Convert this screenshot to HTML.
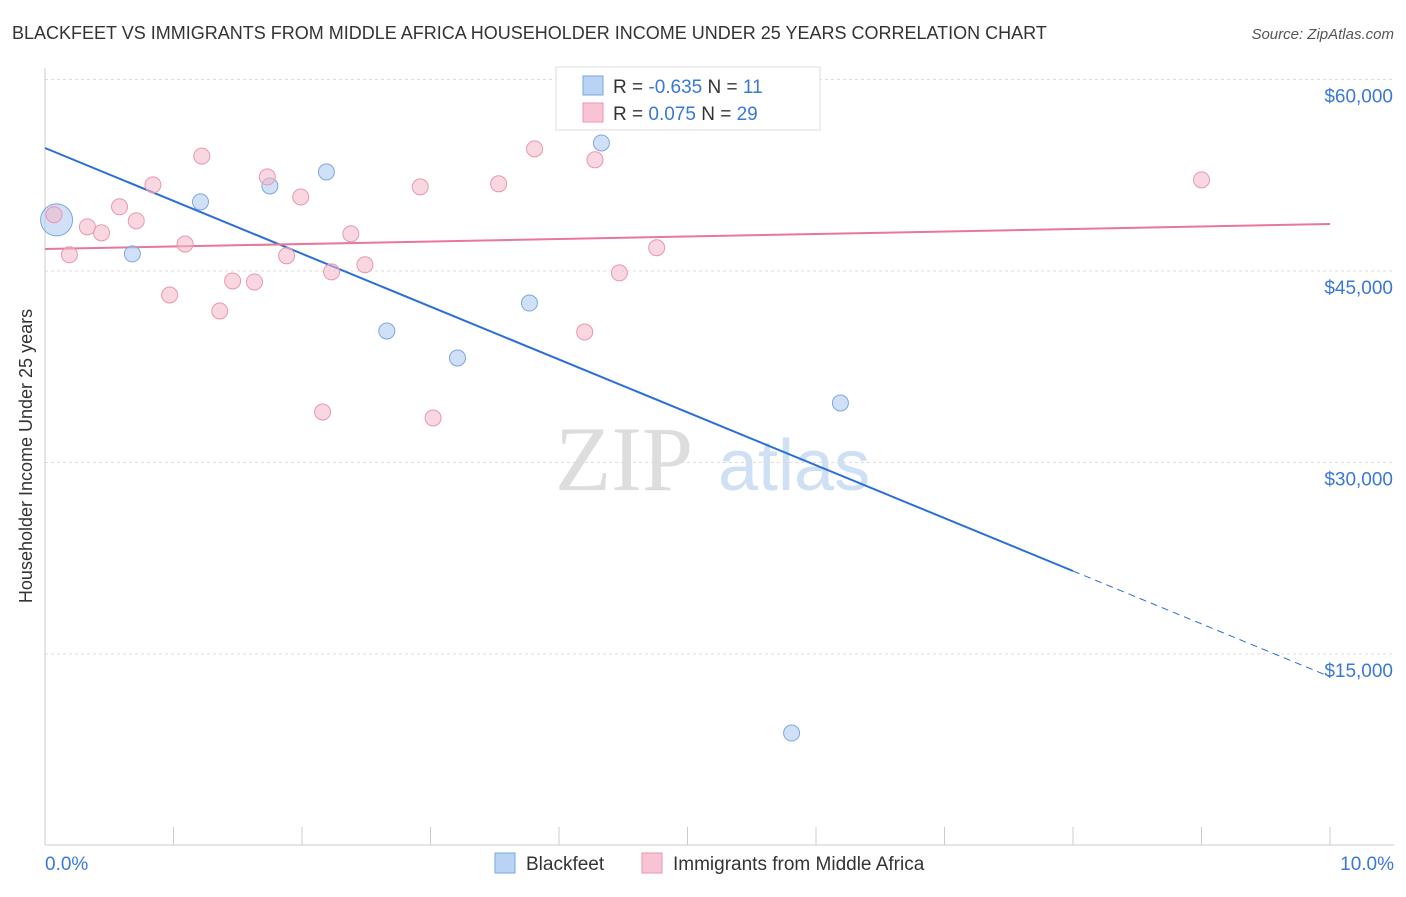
<!DOCTYPE html>
<html><head><meta charset="utf-8"><style>
body{margin:0;background:#fff;font-family:"Liberation Sans",sans-serif;}
</style></head><body>
<svg id="c" width="1406" height="892" xmlns="http://www.w3.org/2000/svg">
<text x="12" y="39" font-size="18" fill="#333">BLACKFEET VS IMMIGRANTS FROM MIDDLE AFRICA HOUSEHOLDER INCOME UNDER 25 YEARS CORRELATION CHART</text>
<text x="1394" y="39" font-size="15" fill="#555" text-anchor="end" font-style="italic">Source: ZipAtlas.com</text>
<text x="32" y="456" font-size="18" fill="#333" text-anchor="middle" transform="rotate(-90 32 456)">Householder Income Under 25 years</text>
<text x="555" y="490" font-size="92" fill="#ddd" font-family="Liberation Serif,serif">ZIP</text>
<text x="718" y="490" font-size="72" fill="#cfe0f5">atlas</text>
<g id="grid"></g><g id="axes"></g><g id="lines"></g><g id="pts"></g>
<g>
<rect x="556" y="67" width="264" height="63" fill="#fff" stroke="#ddd"/>
<rect x="583" y="76" width="20" height="19" fill="#b9d3f4" stroke="#7aa7e0"/>
<text x="613" y="93" font-size="19" fill="#333">R = <tspan fill="#3a78d6">-0.635</tspan>   N =  <tspan fill="#3a78d6">11</tspan></text>
<rect x="583" y="103" width="20" height="19" fill="#f8c4d3" stroke="#ea96b0"/>
<text x="613" y="120" font-size="19" fill="#333">R =  <tspan fill="#3a78d6">0.075</tspan>   N = <tspan fill="#3a78d6">29</tspan></text>
</g>
<g>
<rect x="495" y="853" width="20" height="20" fill="#b9d3f4" stroke="#7aa7e0"/>
<text x="526" y="870" font-size="19" fill="#333">Blackfeet</text>
<rect x="642" y="853" width="20" height="20" fill="#f8c4d3" stroke="#ea96b0"/>
<text x="673" y="870" font-size="19" fill="#333">Immigrants from Middle Africa</text>
</g>
</svg>
<script>
const blueX=[0.09,0.68,1.21,1.75,2.19,2.66,3.21,3.77,4.33,6.19,5.81];
const blueY=[49000,46340,50410,51660,52760,40300,38190,42490,55030,34660,8810];
const blueR=[16,8,8,8,8,8,8,8,8,8,8];
const pinkX=[0.07,0.19,0.33,0.44,0.58,0.71,0.84,0.97,1.09,1.22,1.36,1.46,1.63,1.73,1.88,1.99,2.16,2.23,2.38,2.49,2.92,3.02,3.53,3.81,4.20,4.28,4.47,4.76,9.00];
const pinkY=[49410,46270,48460,47990,50030,48930,51750,43120,47110,54000,41870,44220,44140,52370,46190,50800,33960,44930,47910,45490,51590,33490,51830,54570,40220,53710,44850,46820,52140];
const blueLine=[54635,21502,13218]; // at x=0, 8, 10
const pinkLine=[46723,48681]; // at x=0, 10
const yTicks=[15000,30000,45000,60000];
const yTickLabels=["$15,000","$30,000","$45,000","$60,000"];
const xTicks=[0,1,2,3,4,5,6,7,8,9,10];
const NS="http://www.w3.org/2000/svg";
const X=v=>45+v*128.5, Y=v=>845.5-v/15000*191.5;
function mk(p,t,a){const e=document.createElementNS(NS,t);for(const k in a)e.setAttribute(k,a[k]);document.getElementById(p).appendChild(e);return e;}
yTicks.forEach((t,i)=>{
 const g=mk('grid','line',{x1:45,x2:1394,y1:Y(t),y2:Y(t),stroke:'#ddd','stroke-dasharray':'3,3'});
 
 
 const l=mk('axes','text',{x:1393,y:Y(t)+23,'font-size':19,fill:'#3a78d6','text-anchor':'end'});
 l.textContent=yTickLabels[i];
 
 
});
const ax=mk('axes','line',{x1:45,x2:1394,y1:845,y2:845,stroke:'#ccc'});


const ay=mk('axes','line',{x1:45,x2:45,y1:68,y2:845,stroke:'#ccc'});


xTicks.forEach(t=>{
 const k=mk('axes','line',{x1:X(t),x2:X(t),y1:827,y2:845,stroke:'#ccc'});
 
 
});
[[0,'0.0%','start',45],[10,'10.0%','end',1394]].forEach(d=>{
 const l=mk('axes','text',{x:d[3],y:870,'font-size':19,fill:'#3a78d6','text-anchor':d[2]});
 l.textContent=d[1];
 
 
});
const bl=mk('lines','line',{x1:X(0),y1:Y(blueLine[0]),x2:X(8),y2:Y(blueLine[1]),stroke:'#2a6fd6','stroke-width':2});


const bd=mk('lines','line',{x1:X(8),y1:Y(blueLine[1]),x2:X(10),y2:Y(blueLine[2]),stroke:'#2a6fd6','stroke-width':1,'stroke-dasharray':'7,5'});


const pl=mk('lines','line',{x1:X(0),y1:Y(pinkLine[0]),x2:X(10),y2:Y(pinkLine[1]),stroke:'#e8779a','stroke-width':2});


blueX.forEach((x,i)=>{
 const c=mk('pts','circle',{cx:X(x),cy:Y(blueY[i]),r:blueR[i],fill:'rgba(169,200,240,0.55)',stroke:'#7aa7e0','stroke-width':1});
 
 
});
pinkX.forEach((x,i)=>{
 const c=mk('pts','circle',{cx:X(x),cy:Y(pinkY[i]),r:8,fill:'rgba(244,182,200,0.55)',stroke:'#ea96b0','stroke-width':1});
 
 
});
</script>
</body></html>
